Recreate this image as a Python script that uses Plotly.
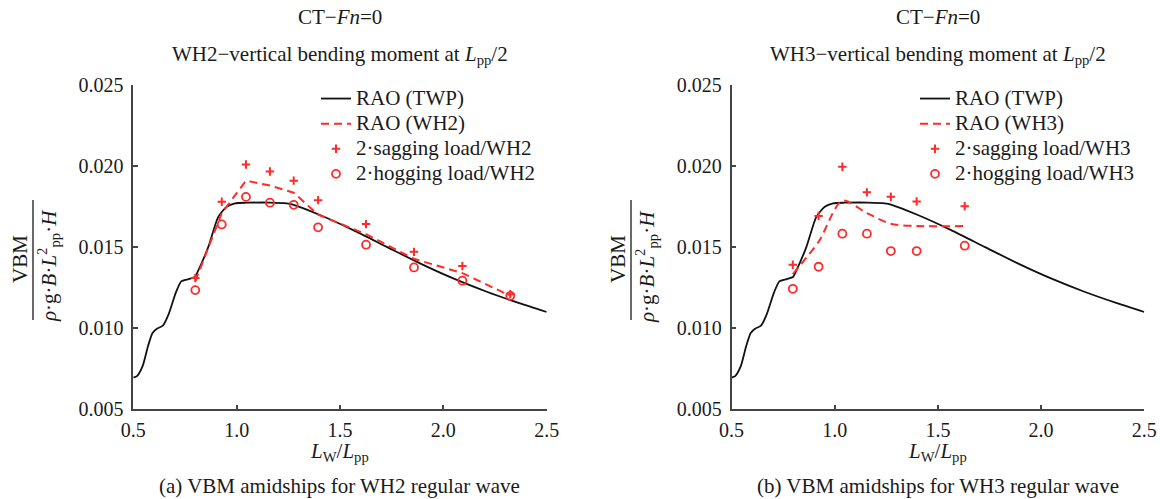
import plotly.graph_objects as go

W, H = 1160, 499

# ---------------- data ----------------
twp_x = [0.5, 0.518, 0.545, 0.571, 0.593, 0.616, 0.643, 0.670, 0.705, 0.732, 0.768, 0.798,
         0.815, 0.863, 0.911, 0.952, 0.992, 1.05, 1.161, 1.242, 1.276, 1.403, 1.564, 1.726,
         1.887, 2.048, 2.21, 2.371, 2.5]
twp_y = [0.00695, 0.00705, 0.00766, 0.00889, 0.00971, 0.00998, 0.01016, 0.01084, 0.01217,
         0.01289, 0.01303, 0.01316, 0.01358, 0.01502, 0.01687, 0.01749, 0.0177, 0.01774,
         0.01775, 0.0177, 0.01761, 0.01698, 0.01605, 0.01502, 0.014, 0.01307, 0.01225,
         0.01153, 0.011]

wh2_x = [0.8, 0.928, 1.045, 1.161, 1.276, 1.394, 1.626, 1.858, 2.092, 2.324]
wh2_sag = [0.0131, 0.0178, 0.0201, 0.01967, 0.0191, 0.0179, 0.01642, 0.01471, 0.01383, 0.0121]
wh2_hog = [0.01235, 0.0164, 0.0181, 0.01774, 0.01761, 0.01622, 0.01515, 0.01375, 0.01293, 0.0120]
wh2_rao = [0.0129, 0.0171, 0.0191, 0.0188, 0.01836, 0.0170, 0.0158, 0.01428, 0.0134, 0.0120]

wh3_x = [0.797, 0.922, 1.037, 1.156, 1.272, 1.397, 1.630]
wh3_sag = [0.01391, 0.01692, 0.01996, 0.01838, 0.01811, 0.01782, 0.01753]
wh3_hog = [0.01243, 0.01379, 0.01583, 0.01583, 0.01476, 0.01476, 0.01509]
wh3_rao = [0.01334, 0.01533, 0.01786, 0.0171, 0.01644, 0.0163, 0.0163]

x_ticks = [0.5, 1.0, 1.5, 2.0, 2.5]
y_ticks = [0.005, 0.010, 0.015, 0.020, 0.025]

# ---------------- styling ----------------
FONT = "Liberation Serif"
RED = "#ff2a2a"
BLACK = "#111111"
AX = "#444444"
TXT = "#1a1a1a"


def px(x):
    return x / W


def py(y):
    return 1 - y / H


def big(s):
    return f'<span style="font-size:21px">{s}</span>'


fig = go.Figure()

panels = [
    dict(xa="x", ya="y", leg="legend", name="WH2", xs=wh2_x, sag=wh2_sag, hog=wh2_hog,
         rao=wh2_rao, smooth=0),
    dict(xa="x2", ya="y2", leg="legend2", name="WH3", xs=wh3_x, sag=wh3_sag, hog=wh3_hog,
         rao=wh3_rao, smooth=0.8),
]

for p in panels:
    fig.add_trace(go.Scatter(x=twp_x, y=twp_y, mode="lines", name=big("RAO (TWP)"),
                             line=dict(color=BLACK, width=1.8, shape="spline", smoothing=0.6),
                             xaxis=p["xa"], yaxis=p["ya"], legend=p["leg"]))
    line = dict(color=RED, width=2, dash="8px,5px")
    if p["smooth"]:
        line.update(shape="spline", smoothing=p["smooth"])
    fig.add_trace(go.Scatter(x=p["xs"], y=p["rao"], mode="lines", name=big(f"RAO ({p['name']})"),
                             line=line, xaxis=p["xa"], yaxis=p["ya"], legend=p["leg"]))
    fig.add_trace(go.Scatter(x=p["xs"], y=p["sag"], mode="markers",
                             name=big(f"2·sagging load/{p['name']}"),
                             marker=dict(symbol="cross-thin", size=6, color=RED,
                                         line=dict(color=RED, width=2)),
                             xaxis=p["xa"], yaxis=p["ya"], legend=p["leg"]))
    fig.add_trace(go.Scatter(x=p["xs"], y=p["hog"], mode="markers",
                             name=big(f"2·hogging load/{p['name']}"),
                             marker=dict(symbol="circle-open", size=8, color=RED,
                                         line=dict(color=RED, width=1.8)),
                             xaxis=p["xa"], yaxis=p["ya"], legend=p["leg"]))

axis_common = dict(showline=True, linecolor=AX, linewidth=1.5, ticks="inside", ticklen=5,
                   tickcolor=AX, tickwidth=1.5, showgrid=False, zeroline=False,
                   tickfont=dict(family=FONT, size=20, color=TXT))

left_dom = [px(133.3), px(546.7)]
right_dom = [px(731.5), px(1144.3)]
y_dom = [py(409.3), py(85)]

xcommon = dict(axis_common, range=[0.5, 2.5], tickvals=x_ticks,
               ticktext=[f"{v:.1f}" for v in x_ticks], ticklabelstandoff=2)
ycommon = dict(axis_common, range=[0.005, 0.025], tickvals=y_ticks,
               ticktext=[f"{v:.3f}" for v in y_ticks], ticklabelstandoff=4)

legend_common = dict(font=dict(family=FONT, size=17, color=TXT), bgcolor="rgba(0,0,0,0)",
                     xanchor="left", yanchor="top", tracegroupgap=0, itemwidth=30)

fig.update_layout(
    width=W, height=H, margin=dict(l=0, r=0, t=0, b=0, autoexpand=False),
    paper_bgcolor="white", plot_bgcolor="white",
    xaxis=dict(xcommon, domain=left_dom, anchor="y"),
    yaxis=dict(ycommon, domain=y_dom, anchor="x"),
    xaxis2=dict(xcommon, domain=right_dom, anchor="y2"),
    yaxis2=dict(ycommon, domain=y_dom, anchor="x2"),
    legend=dict(legend_common, x=px(316), y=py(81)),
    legend2=dict(legend_common, x=px(915), y=py(81)),
    showlegend=True,
)

ann = []
shapes = []
for cx, ax0, wh, cap in [(340, 0, "WH2", "(a) VBM amidships for WH2 regular wave"),
                         (937.9, 598, "WH3", "(b) VBM amidships for WH3 regular wave")]:
    ann.append(dict(text="CT−<i>Fn</i>=0", x=px(cx), y=py(17)))
    ann.append(dict(text=f"{wh}−vertical bending moment at <i>L</i><sub>pp</sub>/2",
                    x=px(cx), y=py(55)))
    ann.append(dict(text="<i>L</i><sub>W</sub>/<i>L</i><sub>pp</sub>", x=px(cx), y=py(452)))
    ann.append(dict(text=cap, x=px(cx), y=py(486)))
    ann.append(dict(text="VBM", x=px(ax0 + 20), y=py(259), textangle=-90))
    ann.append(dict(text="<i>ρ</i>·g·<i>B</i>·<i>L</i><sup>2</sup><sub>pp</sub>·<i>H</i>",
                    x=px(ax0 + 48), y=py(266), textangle=-90))
    shapes.append(dict(type="line", xref="paper", yref="paper",
                       x0=px(ax0 + 33), x1=px(ax0 + 33), y0=py(200), y1=py(320),
                       line=dict(color=TXT, width=1.3)))

for a in ann:
    a.update(xref="paper", yref="paper", showarrow=False, xanchor="center", yanchor="middle",
             font=dict(family=FONT, size=21, color=TXT))

fig.update_layout(annotations=ann, shapes=shapes)

fig.write_html("out.html")
